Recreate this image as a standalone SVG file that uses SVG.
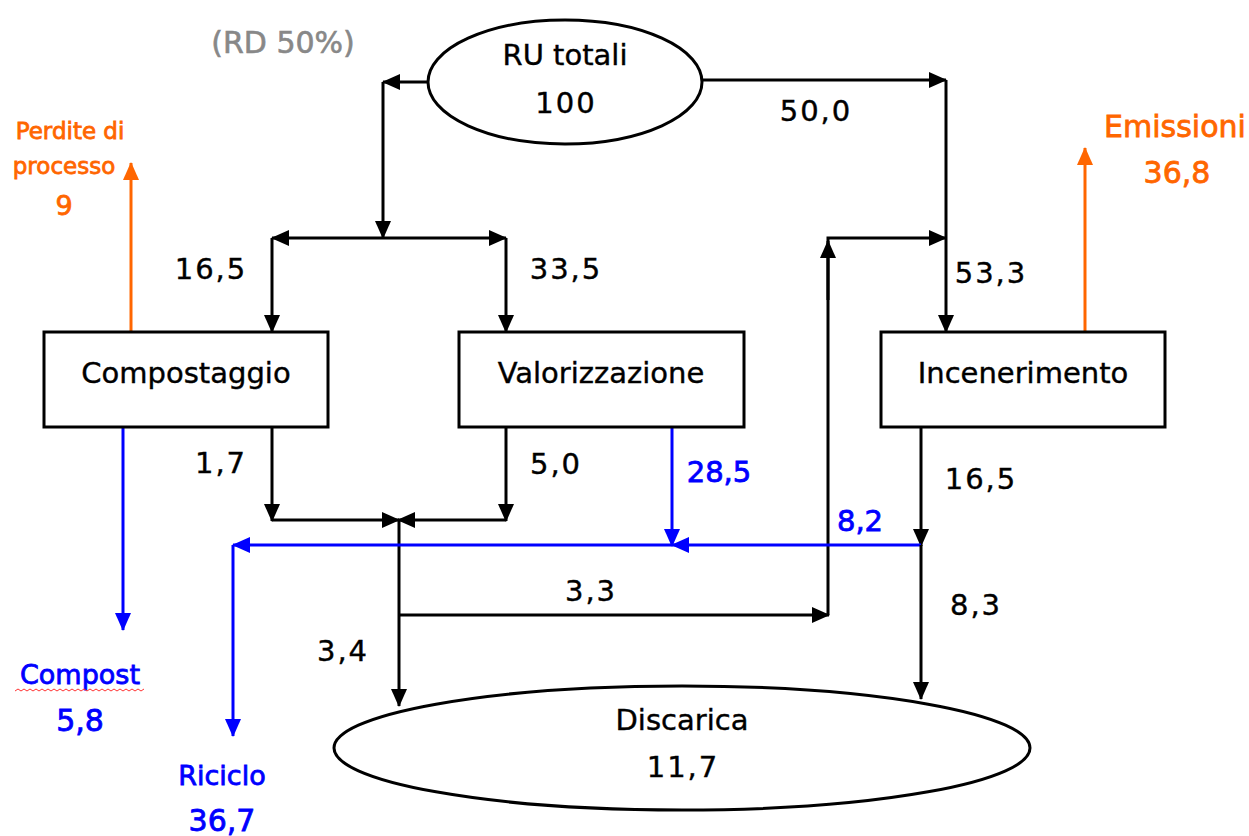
<svg xmlns="http://www.w3.org/2000/svg" width="1249" height="836" viewBox="0 0 1249 836">
<style>
text{font-family:"DejaVu Sans","Liberation Sans",sans-serif;font-size:29px;text-anchor:middle;fill:#000;stroke:#000;stroke-width:0.4}
.num{letter-spacing:2px}
.k{fill:none;stroke:#000;stroke-width:3}
.b{fill:none;stroke:#0000FF;stroke-width:3}
.o{fill:none;stroke:#FF6600;stroke-width:3}
.node{fill:#fff;stroke:#000;stroke-width:3}
text.bl{fill:#0000FF;stroke:#0000FF;stroke-width:0.8}
text.or{fill:#FF6600;stroke:#FF6600;stroke-width:0.8}
text.gr{fill:#888888;stroke:#888888;stroke-width:0.6}
</style>
<defs>
<marker id="ak" markerUnits="userSpaceOnUse" markerWidth="18" markerHeight="16" refX="17" refY="8" orient="auto"><path d="M0,0 L18,8 L0,16 Z" fill="#000"/></marker>
<marker id="ab" markerUnits="userSpaceOnUse" markerWidth="18" markerHeight="16" refX="17" refY="8" orient="auto"><path d="M0,0 L18,8 L0,16 Z" fill="#0000FF"/></marker>
<marker id="ao" markerUnits="userSpaceOnUse" markerWidth="18" markerHeight="16" refX="17" refY="8" orient="auto"><path d="M0,0 L18,8 L0,16 Z" fill="#FF6600"/></marker>
</defs>

<g id="connectors">
<path class="k" d="M428,82 H383" marker-end="url(#ak)"/>
<path class="k" d="M383,82 V238" marker-end="url(#ak)"/>
<path class="k" d="M383,238 H272" marker-end="url(#ak)"/>
<path class="k" d="M383,238 H506" marker-end="url(#ak)"/>
<path class="k" d="M272,238 V332" marker-end="url(#ak)"/>
<path class="k" d="M506,238 V332" marker-end="url(#ak)"/>
<path class="k" d="M702,80 H946" marker-end="url(#ak)"/>
<path class="k" d="M946,80 V332" marker-end="url(#ak)"/>
<path class="k" d="M828,615 V238 H946" marker-end="url(#ak)"/>
<path class="k" d="M828,300 V241" marker-end="url(#ak)"/>
<path class="o" d="M131,332 V163" marker-end="url(#ao)"/>
<path class="o" d="M1085,332 V148" marker-end="url(#ao)"/>
<path class="b" d="M123,427 V630" marker-end="url(#ab)"/>
<path class="k" d="M272,427 V521" marker-end="url(#ak)"/>
<path class="k" d="M272,520 H399" marker-end="url(#ak)"/>
<path class="k" d="M506,427 V521" marker-end="url(#ak)"/>
<path class="k" d="M506,520 H398" marker-end="url(#ak)"/>
<path class="b" d="M672,427 V546" marker-end="url(#ab)"/>
<path class="k" d="M399,520 V706" marker-end="url(#ak)"/>
<path class="k" d="M399,615 H829" marker-end="url(#ak)"/>
<path class="k" d="M921,427 V546" marker-end="url(#ak)"/>
<path class="b" d="M921,545 H672" marker-end="url(#ab)"/>
<path class="b" d="M672,545 H233" marker-end="url(#ab)"/>
<path class="b" d="M233,545 V736" marker-end="url(#ab)"/>
<path class="k" d="M921,545 V699" marker-end="url(#ak)"/>
</g>

<g id="ru-totali">
<ellipse class="node" cx="565" cy="82" rx="137" ry="62"/>
<text x="565" y="65">RU totali</text>
<text class="num" x="566" y="113">100</text>
</g>
<g id="rd"><text class="gr" x="283" y="53" style="font-size:30px">(RD 50%)</text></g>

<g id="compostaggio">
<rect class="node" x="44" y="332" width="284" height="95"/>
<text x="186" y="383">Compostaggio</text>
</g>
<g id="valorizzazione">
<rect class="node" x="459" y="332" width="285" height="95"/>
<text x="601" y="383">Valorizzazione</text>
</g>
<g id="incenerimento">
<rect class="node" x="881" y="332" width="284" height="95"/>
<text x="1023" y="383">Incenerimento</text>
</g>
<g id="discarica">
<ellipse class="node" cx="682" cy="748" rx="348" ry="62"/>
<text x="682" y="730">Discarica</text>
<text class="num" x="683" y="777">11,7</text>
</g>

<g id="perdite">
<text class="or" x="70" y="139" style="font-size:23px">Perdite di</text>
<text class="or" x="64" y="174" style="font-size:23px">processo</text>
<text class="or" x="64" y="215" style="font-size:27px">9</text>
</g>
<g id="emissioni">
<text class="or" x="1175" y="137" style="font-size:30px">Emissioni</text>
<text class="or" x="1177" y="183" style="font-size:30px">36,8</text>
</g>
<g id="compost">
<text class="bl" x="80" y="684" style="font-size:27px">Compost</text>
<path d="M15,691 l3,-2 l3,2 l3,-2 l3,2 l3,-2 l3,2 l3,-2 l3,2 l3,-2 l3,2 l3,-2 l3,2 l3,-2 l3,2 l3,-2 l3,2 l3,-2 l3,2 l3,-2 l3,2 l3,-2 l3,2 l3,-2 l3,2 l3,-2 l3,2 l3,-2 l3,2 l3,-2 l3,2 l3,-2 l3,2 l3,-2 l3,2 l3,-2 l3,2 l3,-2 l3,2 l3,-2 l3,2 l3,-2 l3,2 l3,-2" fill="none" stroke="#FF3333" stroke-width="1"/>
<text class="bl" x="80" y="731" style="font-size:30px">5,8</text>
</g>
<g id="riciclo">
<text class="bl" x="222" y="785" style="font-size:27px">Riciclo</text>
<text class="bl" x="222" y="831" style="font-size:30px">36,7</text>
</g>

<g id="labels">
<text class="num" x="211" y="279">16,5</text>
<text class="num" x="566" y="279">33,5</text>
<text class="num" x="816" y="121">50,0</text>
<text class="num" x="991" y="283">53,3</text>
<text class="num" x="221" y="473">1,7</text>
<text class="num" x="556" y="474">5,0</text>
<text class="bl" x="719" y="482">28,5</text>
<text class="bl" x="860" y="531">8,2</text>
<text class="num" x="981" y="489">16,5</text>
<text class="num" x="591" y="601">3,3</text>
<text class="num" x="976" y="615">8,3</text>
<text class="num" x="343" y="661">3,4</text>
</g>
</svg>
